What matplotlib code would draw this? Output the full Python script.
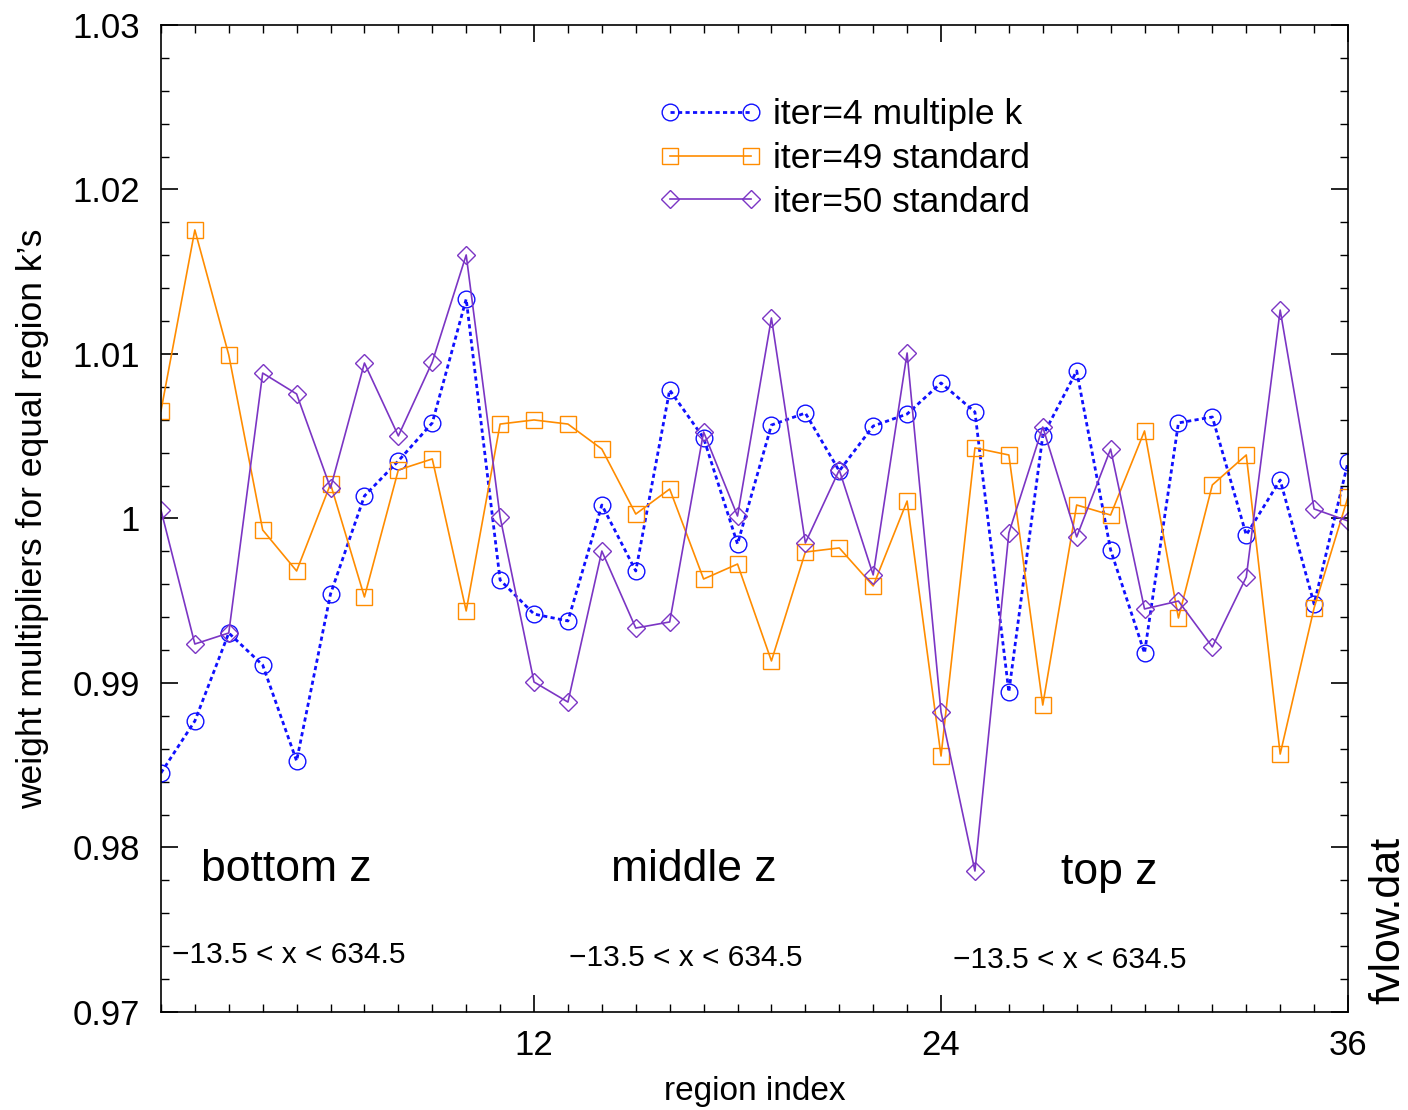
import matplotlib.pyplot as plt
import numpy as np
from matplotlib.ticker import MultipleLocator, FixedLocator

plt.rcParams["font.family"] = ["Liberation Sans", "DejaVu Sans"]

region = np.arange(1, 37)

iter4_multi = [0.98453, 0.98769, 0.99304, 0.99109, 0.98526, 0.99541, 1.00137, 1.00350, 1.00581, 1.01334,
               0.99626, 0.99419, 0.99377, 1.00082, 0.99681, 1.00781, 1.00489, 0.99845, 1.00568, 1.00641,
               1.00289, 1.00562, 1.00635, 1.00824, 1.00647, 0.98945, 1.00502, 1.00897, 0.99809, 0.99182,
               1.00581, 1.00617, 0.99900, 1.00234, 0.99480, 1.00343]
iter49_std = [1.00653, 1.01754, 1.00994, 0.99930, 0.99681, 1.00210, 0.99523, 1.00295, 1.00362, 0.99438,
              1.00574, 1.00599, 1.00574, 1.00422, 1.00027, 1.00179, 0.99632, 0.99723, 0.99134, 0.99796,
              0.99821, 0.99590, 1.00106, 0.98556, 1.00429, 1.00386, 0.98866, 1.00082, 1.00021, 1.00532,
              0.99395, 1.00204, 1.00386, 0.98568, 0.99456, 1.00131]
iter50_std = [1.00052, 0.99237, 0.99304, 1.00884, 1.00757, 1.00185, 1.00945, 1.00502, 1.00951, 1.01602,
              1.00009, 0.99006, 0.98884, 0.99802, 0.99334, 0.99371, 1.00526, 1.00015, 1.01219, 0.99851,
              1.00295, 0.99657, 1.01006, 0.98824, 0.97857, 0.99912, 1.00556, 0.99888, 1.00422, 0.99450,
              0.99498, 0.99219, 0.99644, 1.01267, 1.00058, 0.99985]

y_ticks = [0.97, 0.98, 0.99, 1.00, 1.01, 1.02, 1.03]
y_ticklabels = ["0.97", "0.98", "0.99", "1", "1.01", "1.02", "1.03"]

zone_names = ["bottom z", "middle z", "top z"]
zone_name_pos = [(4.71, 0.97865), (16.72, 0.97865), (28.97, 0.97845)]
zone_range = "\u221213.5 < x < 634.5"
zone_range_pos = [(4.77, 0.97347), (16.46, 0.97328), (27.79, 0.97316)]

fig = plt.figure(figsize=(14.08, 11.10), dpi=100)
ax = fig.add_axes([0.1143, 0.0883, 0.8431, 0.8892])

ax.plot(region, iter4_multi, color="#1010ff", ls=(0, (1.5, 1.2)), lw=2.0,
        marker="o", ms=12, mfc="none", mec="#1010ff", mew=1.0, label="iter=4 multiple k")
ax.plot(region, iter49_std, color="#ff8c00", ls="-", lw=1.2,
        marker="s", ms=11, mfc="none", mec="#ff8c00", mew=1.0, label="iter=49 standard")
ax.plot(region, iter50_std, color="#7b35c4", ls="-", lw=1.2,
        marker="D", ms=9.5, mfc="none", mec="#7b35c4", mew=1.0, label="iter=50 standard")

ax.set_xlim(1, 36)
ax.set_ylim(0.97, 1.03)
ax.xaxis.set_major_locator(FixedLocator([12, 24, 36]))
ax.xaxis.set_minor_locator(MultipleLocator(1))
ax.set_yticks(y_ticks)
ax.set_yticklabels(y_ticklabels)
ax.yaxis.set_minor_locator(MultipleLocator(0.002))
ax.tick_params(which="both", direction="in", top=True, right=True, labelsize=25)
ax.tick_params(which="major", length=12, width=1.2)
ax.tick_params(which="minor", length=6, width=1.0)
ax.tick_params(axis="x", pad=12)
ax.tick_params(axis="y", pad=15)
for s in ax.spines.values():
    s.set_linewidth(1.2)

ax.set_xlabel("region index", fontsize=24, labelpad=10)
ax.set_ylabel("weight multipliers for equal region k\u2019s", fontsize=25.5, labelpad=17)

for name, (x, y) in zip(zone_names, zone_name_pos):
    ax.text(x, y, name, fontsize=32, ha="center", va="center")
for x, y in zone_range_pos:
    ax.text(x, y, zone_range, fontsize=21.5, ha="center", va="center")

fig.text(0.986, 0.171, "fvlow.dat", rotation=90, fontsize=31, ha="center", va="center")

ax.legend(loc="upper left", bbox_to_anchor=(0.393, 0.958), frameon=False, fontsize=25.5,
          numpoints=2, handlelength=2.9, labelspacing=0.3, handletextpad=0.3)

fig.savefig("out.png", dpi=100)
